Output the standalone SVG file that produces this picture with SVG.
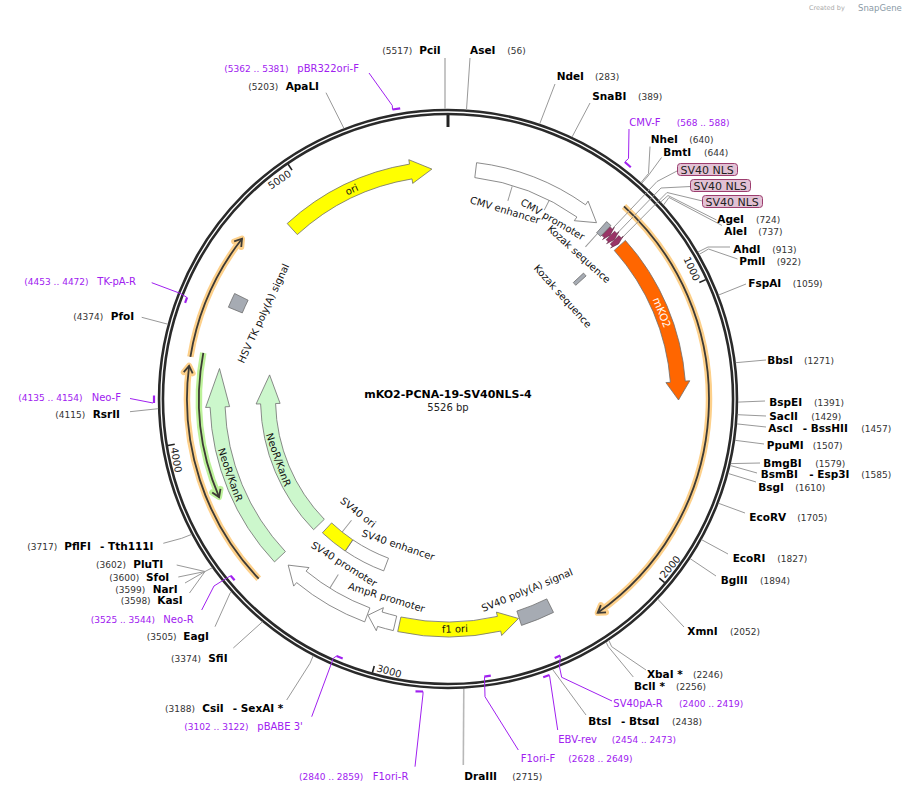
<svg xmlns="http://www.w3.org/2000/svg" width="907" height="793" viewBox="0 0 907 793">
<style>
text{font-family:"DejaVu Sans","Liberation Sans",sans-serif}
.e{font-size:10.5px;font-weight:bold;fill:#000}
.n{font-size:9px;fill:#333}
.p{font-size:10px;fill:#a020f0}
.pn{font-size:9px;fill:#a020f0}
.f{font-size:10px;fill:#111}
.tk{font-size:10px;fill:#222}
.ld{stroke:#999;stroke-width:1;fill:none}
.ldl{stroke:#b8b8b8;stroke-width:1.6;fill:none}
.pl{stroke:#a020f0;stroke-width:1;fill:none}
.pb{stroke:#a020f0;stroke-width:2.2;fill:none}
.feat{stroke:#6e6e6e;stroke-width:0.8}
.oh{stroke:#fdd08a;stroke-width:6.5;fill:none}
.gh{stroke:#bdf29a;stroke-width:6.5;fill:none}
.od{stroke:#3d3a35;stroke-width:1.8;fill:none}
.nls{fill:#e2c1d4;stroke:#9c3d6e;stroke-width:1}
</style>
<defs>
<marker id="mho" markerUnits="userSpaceOnUse" overflow="visible" orient="auto" refX="0" refY="0" markerWidth="20" markerHeight="20"><path d="M-7,-4.5 L0,0 L-7,4.5" fill="none" stroke="#fdd08a" stroke-width="6" stroke-linejoin="round" stroke-linecap="round"/></marker>
<marker id="mhg" markerUnits="userSpaceOnUse" overflow="visible" orient="auto" refX="0" refY="0" markerWidth="20" markerHeight="20"><path d="M-7,-4.5 L0,0 L-7,4.5" fill="none" stroke="#bdf29a" stroke-width="6" stroke-linejoin="round" stroke-linecap="round"/></marker>
<marker id="md" markerUnits="userSpaceOnUse" overflow="visible" orient="auto" refX="0" refY="0" markerWidth="20" markerHeight="20"><path d="M-7,-4.5 L0,0 L-7,4.5" fill="none" stroke="#3d3a35" stroke-width="1.8"/></marker>
</defs>
<rect width="907" height="793" fill="#fff"/>
<text x="809" y="10" style="font-size:6.5px;fill:#aaa">Created by</text>
<text x="858" y="10.5" style="font-size:8.5px;fill:#8a9aa6">SnapGene</text>

<g id="backbone" transform="translate(448,399)">
<circle r="287" fill="none" stroke="#2a2a2a" stroke-width="6.5"/>
<circle r="287" fill="none" stroke="#fff" stroke-width="1.3"/>
<line x1="0" y1="-284" x2="0" y2="-272" stroke="#222" stroke-width="3"/>
<g stroke="#222" stroke-width="1.6">
<line x1="0" y1="-284" x2="0" y2="-277" transform="rotate(65.147)"/>
<line x1="0" y1="-284" x2="0" y2="-277" transform="rotate(130.293)"/>
<line x1="0" y1="-284" x2="0" y2="-277" transform="rotate(195.44)"/>
<line x1="0" y1="-284" x2="0" y2="-277" transform="rotate(260.586)"/>
<line x1="0" y1="-284" x2="0" y2="-277" transform="rotate(325.733)"/>
</g>
<text class="tk" transform="rotate(65.147)" x="-3" y="-272.5" text-anchor="end">1000</text>
<text class="tk" transform="rotate(-49.707)" x="3" y="281.5">2000</text>
<text class="tk" transform="rotate(15.44)" x="3" y="281.5">3000</text>
<text class="tk" transform="rotate(80.586)" x="3" y="281.5">4000</text>
<text class="tk" transform="rotate(-34.267)" x="-3" y="-272.5" text-anchor="end">5000</text>
</g>

<g id="orfs" transform="translate(448,399)">
<path class="oh" d="M176.0,-192.7 A261,261 0 0 1 149.7,213.8" marker-end="url(#mho)"/>
<path class="od" d="M176.0,-192.7 A261,261 0 0 1 149.7,213.8" marker-end="url(#md)"/>
<path class="oh" d="M-189.3,179.7 A261,261 0 0 1 -258.9,-33.2" marker-end="url(#mho)"/>
<path class="od" d="M-189.3,179.7 A261,261 0 0 1 -258.9,-33.2" marker-end="url(#md)"/>
<path class="oh" d="M-257.6,-42.2 A261,261 0 0 1 -206.0,-160.3" marker-end="url(#mho)"/>
<path class="od" d="M-257.6,-42.2 A261,261 0 0 1 -206.0,-160.3" marker-end="url(#md)"/>
<path class="gh" d="M-244.7,-46.2 A249,249 0 0 0 -228.9,98.1" marker-end="url(#mhg)"/>
<path class="od" d="M-244.7,-46.2 A249,249 0 0 0 -228.9,98.1" marker-end="url(#md)"/>
</g>

<g id="connectors">
<g transform="translate(448,399)" class="ld">
<line x1="0" y1="-222" x2="0" y2="-207" transform="rotate(16.8)"/>
<line x1="0" y1="-223" x2="0" y2="-212" transform="rotate(27)"/>
<line x1="0" y1="-223" x2="0" y2="-205" transform="rotate(42.1)"/>
<line x1="0" y1="-170" x2="0" y2="-155" transform="rotate(218.5)"/>
<line x1="0" y1="-223" x2="0" y2="-207" transform="rotate(212)"/>
</g>
<polyline class="ldl" points="445,58 445,109"/>
<polyline class="ld" points="470,58 466.5,109.6"/>
<polyline class="ld" points="555,84 539.7,123.9"/>
<polyline class="ld" points="590,103 572.1,136.9"/>
<polyline class="ld" points="650,146.5 648.5,173.5 641,182.5"/>
<polyline class="ld" points="661.5,157.5 648,176 642,183"/>
<polyline class="ld" points="677,171 657,181.5 612.6,228.5"/>
<polyline class="ld" points="690.5,186.5 661,188 617.3,233.2"/>
<polyline class="ld" points="702.5,201 667,192.5 621.9,238"/>
<polyline class="ld" points="716.5,220 668,195.5 660.7,202"/>
<polyline class="ld" points="722,225.5 669,197.5 663.5,205"/>
<polyline class="ld" points="730,247 708,247 698,252"/>
<polyline class="ld" points="737.5,259 708.5,249 699.3,254.3"/>
<polyline class="ld" points="746,284 718.7,295"/>
<polyline class="ld" points="766,360 735.7,362.7"/>
<polyline class="ld" points="765,401 738,402.1"/>
<polyline class="ld" points="766,416 737.6,414.7"/>
<polyline class="ld" points="766,427 736.9,423.9"/>
<polyline class="ld" points="764,444 735,440.3"/>
<polyline class="ld" points="760,463 730.7,463.6"/>
<polyline class="ld" points="757,473 730.3,465.5"/>
<polyline class="ld" points="756,482 728.3,473.5"/>
<polyline class="ld" points="745,513 718.6,503.3"/>
<polyline class="ld" points="728,554 701.6,539.7"/>
<polyline class="ld" points="716,576 690.1,558.6"/>
<polyline class="ld" points="684,627 657.8,599.2"/>
<polyline class="ld" points="646,670 611.7,646.7 608.8,640.3"/>
<polyline class="ld" points="633.3,677 608.3,646.7 606.1,642.1"/>
<polyline class="ld" points="586,715 553,670"/>
<polyline class="ldl" points="463.3,765 463.8,689"/>
<polyline class="ld" points="286.7,700 310,663.3 313.2,655.8"/>
<polyline class="ld" points="233.3,648 262.4,621.8"/>
<polyline class="ld" points="215,626.7 230,593.3 231.4,591.9"/>
<polyline class="ld" points="176.7,565 205,571.5"/>
<polyline class="ld" points="178.3,577 205,571.5"/>
<polyline class="ld" points="185,583 205,571.5"/>
<polyline class="ld" points="189.5,593 205,571.5 212.2,567.8"/>
<polyline class="ld" points="163.3,543.3 181.7,538.3 191.6,534.4"/>
<polyline class="ld" points="130,411.7 158.2,408.7"/>
<polyline class="ld" points="141.7,317.3 167.8,324.2"/>
<polyline class="ld" points="326,92.7 343.9,128.3"/>
<!-- primers -->
<polyline class="pl" points="369,73 392.3,105.5 392.5,109.5"/>
<polyline class="pb" points="392.5,109.5 400.2,108.3"/>
<polyline class="pl" points="629,129 628.5,158.5 624.8,162"/>
<polyline class="pb" points="624.8,162 630.8,167.3"/>
<polyline class="pl" points="130,398.5 153,403"/>
<polyline class="pb" points="154,395.5 154,403"/>
<polyline class="pl" points="151.7,282.7 180,293.3 186.8,297.3"/>
<polyline class="pb" points="185.1,302.8 187.1,297.3"/>
<polyline class="pl" points="201.7,610 214,586 222,581 230.7,575.7"/>
<polyline class="pb" points="230.7,575.7 234.6,580.2"/>
<polyline class="pl" points="311.7,716.7 333.3,658.3 336.5,656"/>
<polyline class="pb" points="336.5,656 342.7,658.5"/>
<polyline class="pl" points="415,766.7 423,694 423,691.5"/>
<polyline class="pb" points="423,691.5 415.5,691.3"/>
<polyline class="pl" points="518.3,750 485,696.7 484.5,677"/>
<polyline class="pb" points="484.3,676.7 490.8,675.7"/>
<polyline class="pl" points="557.7,730 549.5,675.5"/>
<polyline class="pb" points="549.5,675 543.2,677.2"/>
<polyline class="pl" points="612,701 561.7,677.3 559.5,667 560.3,656"/>
<polyline class="pb" points="560.3,655.5 554.7,657.9"/>
</g>

<g transform="translate(448,399)">
<g id="ori"><path class="feat" fill="#ffff00" d="M-160.8,-175.5 A238,238 0 0 1 -38.5,-234.9 L-39.2,-239.3 L-16.1,-229.9 L-35.3,-215.6 L-36.0,-220.1 A223,223 0 0 0 -150.7,-164.4 Z"/>
<text class="f" transform="rotate(-24.7) translate(0,-226.9)" text-anchor="middle">ori</text></g>
<g id="cmv"><path class="feat" fill="#fff" d="M28.6,-236.3 A238,238 0 0 1 137.5,-194.2 L140.1,-197.9 L148.5,-176.3 L126.3,-178.3 L128.9,-182.0 A223,223 0 0 0 26.8,-221.4 Z"/>
<text class="f" transform="rotate(16.8) translate(0,-193.8)" text-anchor="middle">CMV enhancer</text>
<text class="f" transform="rotate(30.2) translate(0,-204.4)" text-anchor="middle">CMV promoter</text></g>
<g id="kozak1"><path class="feat" fill="#a6abb3" d="M158.6,-177.4 A238,238 0 0 1 162.9,-173.5 L152.6,-162.6 A223,223 0 0 0 148.6,-166.2 Z"/>
<text class="f" transform="rotate(42.1) translate(0,-191.8)" text-anchor="middle">Kozak sequence</text></g>
<g id="nls1"><path fill="#993366" stroke="#5a1f3d" stroke-width="0.6" d="M162.2,-172.1 A236.5,236.5 0 0 1 164.6,-169.8 L166.3,-171.6 L162.1,-163.8 L154.5,-159.4 L156.2,-161.2 A224.5,224.5 0 0 0 154.0,-163.4 Z"/></g>
<g id="nls2"><path fill="#993366" stroke="#5a1f3d" stroke-width="0.6" d="M166.6,-167.8 A236.5,236.5 0 0 1 169.0,-165.5 L170.8,-167.2 L166.4,-159.5 L158.6,-155.3 L160.4,-157.1 A224.5,224.5 0 0 0 158.2,-159.3 Z"/></g>
<g id="nls3"><path fill="#993366" stroke="#5a1f3d" stroke-width="0.6" d="M171.0,-163.4 A236.5,236.5 0 0 1 173.2,-161.0 L175.1,-162.7 L170.5,-155.1 L162.6,-151.1 L164.4,-152.8 A224.5,224.5 0 0 0 162.3,-155.1 Z"/></g>
<g id="mko2"><path class="feat" fill="#ff6600" d="M177.4,-158.6 A238,238 0 0 1 237.3,-17.9 L241.8,-18.2 L230.5,1.0 L217.9,-16.4 L222.4,-16.7 A223,223 0 0 0 166.2,-148.6 Z"/>
<text class="f" style="fill:#fff;font-size:10.5px" transform="rotate(68) translate(0,-227)" text-anchor="middle">mKO2</text></g>
<g id="kozak2"><path class="feat" fill="#a6abb3" d="M135.5,-125.9 A185,185 0 0 1 138.1,-123.1 L127.7,-113.7 A171,171 0 0 0 125.3,-116.4 Z"/>
<text class="f" transform="rotate(48.1) translate(0,-150.6)" text-anchor="middle">Kozak sequence</text></g>
<g id="sv40pa"><path class="feat" fill="#a6abb3" d="M73.5,226.4 A238,238 0 0 0 105.5,213.4 L98.8,199.9 A223,223 0 0 1 68.9,212.1 Z"/>
<text class="f" transform="rotate(-22.5) translate(0,210.3)" text-anchor="middle">SV40 poly(A) signal</text></g>
<g id="f1ori"><path class="feat" fill="#ffff00" d="M-50.3,232.6 A238,238 0 0 0 52.7,232.1 L53.7,236.5 L70.5,219.5 L48.4,213.1 L49.4,217.4 A223,223 0 0 1 -47.1,218.0 Z"/>
<text class="f" transform="rotate(-1.7) translate(0,233.5)" text-anchor="middle">f1 ori</text></g>
<g id="ampr-promoter"><path class="feat" fill="#fff" d="M-54.7,231.6 A238,238 0 0 1 -70.4,227.4 L-71.7,231.7 L-80.0,216.2 L-64.6,208.7 L-65.9,213.0 A223,223 0 0 0 -51.3,217.0 Z"/>
<text class="f" transform="rotate(17.2) translate(0,211.2)" text-anchor="middle">AmpR promoter</text></g>
<g id="sv40-promoter"><path class="feat" fill="#fff" d="M-83.3,222.9 A238,238 0 0 1 -151.4,183.6 L-154.3,187.1 L-159.8,166.1 L-139.0,168.6 L-141.9,172.1 A223,223 0 0 0 -78.1,208.9 Z"/>
<text class="f" transform="rotate(32.2) translate(0,198.6)" text-anchor="middle">SV40 promoter</text></g>
<g id="sv40-enhancer"><path class="feat" fill="#fff" d="M-64.3,171.9 A183.5,183.5 0 0 1 -102.6,152.1 L-95.1,140.9 A170,170 0 0 0 -59.5,159.2 Z"/>
<text class="f" transform="rotate(18.8) translate(0,157.8)" text-anchor="middle">SV40 enhancer</text></g>
<g id="sv40-ori"><path class="feat" fill="#ffff00" d="M-102.9,152.0 A183.5,183.5 0 0 1 -125.6,133.8 L-116.4,123.9 A170,170 0 0 0 -95.3,140.8 Z"/>
<text class="f" transform="rotate(38.4) translate(0,148.1)" text-anchor="middle">SV40 ori</text></g>
<g id="neor-outer"><path class="feat" fill="#ccf7cc" d="M-173.5,162.9 A238,238 0 0 1 -237.9,8.3 L-242.4,8.5 L-228.5,-30.5 L-218.4,7.6 L-222.9,7.8 A223,223 0 0 0 -162.6,152.6 Z"/>
<text class="f" transform="rotate(70.8) translate(0,234)" text-anchor="middle">NeoR/KanR</text></g>
<g id="neor-inner"><path class="feat" fill="#ccf7cc" d="M-134.4,130.7 A187.5,187.5 0 0 1 -187.4,4.9 L-191.9,5.0 L-178.4,-24.1 L-167.9,4.4 L-172.4,4.5 A172.5,172.5 0 0 0 -123.7,120.3 Z"/>
<text class="f" transform="rotate(70.3) translate(0,183.6)" text-anchor="middle">NeoR/KanR</text></g>
<g id="hsv-tk-pa"><path class="feat" fill="#a6abb3" d="M-219.6,-91.8 A238,238 0 0 1 -213.4,-105.5 L-199.9,-98.8 A223,223 0 0 0 -205.7,-86.1 Z"/>
<text class="f" transform="rotate(-65.1) translate(0,-200)" text-anchor="middle">HSV TK poly(A) signal</text></g>
</g>

<g id="nls-labels">
<rect class="nls" x="677.5" y="163.5" width="60" height="12" rx="3"/><text x="680.5" y="173.5" style="font-size:11px;fill:#222">SV40 NLS</text>
<rect class="nls" x="690.5" y="179.5" width="60" height="12" rx="3"/><text x="693.5" y="189.5" style="font-size:11px;fill:#222">SV40 NLS</text>
<rect class="nls" x="702.5" y="195.5" width="60" height="12" rx="3"/><text x="705.5" y="205.5" style="font-size:11px;fill:#222">SV40 NLS</text>
</g>

<g id="title">
<text x="448" y="398" text-anchor="middle" style="font-size:11px;font-weight:bold;fill:#000">mKO2-PCNA-19-SV40NLS-4</text>
<text x="448" y="411" text-anchor="middle" style="font-size:10px;fill:#222">5526 bp</text>
</g>

<g id="sites">
<g id="s-pcii"><text class="n" x="382.3" y="54">(5517)</text><text class="e" x="419.3" y="54">PciI</text></g>
<g id="s-asei"><text class="e" x="470" y="54">AseI</text><text class="n" x="507.3" y="54">(56)</text></g>
<g id="s-ndei"><text class="e" x="556.7" y="80">NdeI</text><text class="n" x="595" y="80">(283)</text></g>
<g id="s-snabi"><text class="e" x="592.3" y="99.5">SnaBI</text><text class="n" x="638" y="99.5">(389)</text></g>
<g id="s-nhei"><text class="e" x="650.7" y="143.3">NheI</text><text class="n" x="689.3" y="143.3">(640)</text></g>
<g id="s-bmti"><text class="e" x="663.3" y="155.7">BmtI</text><text class="n" x="704" y="155.7">(644)</text></g>
<g id="s-agei"><text class="e" x="717.3" y="223">AgeI</text><text class="n" x="756" y="223">(724)</text></g>
<g id="s-alei"><text class="e" x="724.3" y="235">AleI</text><text class="n" x="758.3" y="235">(737)</text></g>
<g id="s-ahdi"><text class="e" x="733.3" y="253.3">AhdI</text><text class="n" x="772.3" y="253.3">(913)</text></g>
<g id="s-pmli"><text class="e" x="739.3" y="265">PmlI</text><text class="n" x="776.7" y="265">(922)</text></g>
<g id="s-fspai"><text class="e" x="748.3" y="286.7">FspAI</text><text class="n" x="792.7" y="286.7">(1059)</text></g>
<g id="s-bbsi"><text class="e" x="767.3" y="364">BbsI</text><text class="n" x="804" y="364">(1271)</text></g>
<g id="s-bspei"><text class="e" x="769.3" y="406">BspEI</text><text class="n" x="814" y="406">(1391)</text></g>
<g id="s-sacii"><text class="e" x="769.3" y="420">SacII</text><text class="n" x="811.3" y="420">(1429)</text></g>
<g id="s-asci"><text class="e" x="768.3" y="431.7">AscI</text><text class="e" x="802.7" y="431.7">- BssHII</text><text class="n" x="861.3" y="431.7">(1457)</text></g>
<g id="s-ppumi"><text class="e" x="766.7" y="449">PpuMI</text><text class="n" x="812.7" y="449">(1507)</text></g>
<g id="s-bmgbi"><text class="e" x="763.3" y="466.7">BmgBI</text><text class="n" x="815.3" y="466.7">(1579)</text></g>
<g id="s-bsmbi"><text class="e" x="760.7" y="478.3">BsmBI</text><text class="e" x="809.3" y="478.3">- Esp3I</text><text class="n" x="861.3" y="478.3">(1585)</text></g>
<g id="s-bsgi"><text class="e" x="758.3" y="490.7">BsgI</text><text class="n" x="795.3" y="490.7">(1610)</text></g>
<g id="s-ecorv"><text class="e" x="749.3" y="520.7">EcoRV</text><text class="n" x="797.3" y="520.7">(1705)</text></g>
<g id="s-ecori"><text class="e" x="732.7" y="561.7">EcoRI</text><text class="n" x="777.3" y="561.7">(1827)</text></g>
<g id="s-bglii"><text class="e" x="720.7" y="584">BglII</text><text class="n" x="760" y="584">(1894)</text></g>
<g id="s-xmni"><text class="e" x="687.3" y="635">XmnI</text><text class="n" x="730" y="635">(2052)</text></g>
<g id="s-xbai"><text class="e" x="647" y="678">XbaI *</text><text class="n" x="693" y="678">(2246)</text></g>
<g id="s-bcli"><text class="e" x="634" y="690">BclI *</text><text class="n" x="676" y="690">(2256)</text></g>
<g id="s-btsi"><text class="e" x="588.3" y="725">BtsI</text><text class="e" x="621" y="725">- BtsαI</text><text class="n" x="672" y="725">(2438)</text></g>
<g id="s-draiii"><text class="e" x="464.3" y="780">DraIII</text><text class="n" x="512.3" y="780">(2715)</text></g>
<g id="s-csii"><text class="n" x="165" y="711.7">(3188)</text><text class="e" x="202.3" y="711.7">CsiI</text><text class="e" x="232.7" y="711.7">- SexAI *</text></g>
<g id="s-sfii"><text class="n" x="171" y="661.7">(3374)</text><text class="e" x="208.3" y="661.7">SfiI</text></g>
<g id="s-eagi"><text class="n" x="146.7" y="640">(3505)</text><text class="e" x="183.3" y="640">EagI</text></g>
<g id="s-kasi"><text class="n" x="120.7" y="604">(3598)</text><text class="e" x="157.3" y="604">KasI</text></g>
<g id="s-nari"><text class="n" x="115.3" y="592.7">(3599)</text><text class="e" x="152.7" y="592.7">NarI</text></g>
<g id="s-sfoi"><text class="n" x="109.3" y="580.7">(3600)</text><text class="e" x="146" y="580.7">SfoI</text></g>
<g id="s-pluti"><text class="n" x="96" y="568.3">(3602)</text><text class="e" x="133.3" y="568.3">PluTI</text></g>
<g id="s-pflfi"><text class="n" x="27.3" y="550">(3717)</text><text class="e" x="64.3" y="550">PflFI</text><text class="e" x="100" y="550">- Tth111I</text></g>
<g id="s-rsrii"><text class="n" x="55.3" y="418.3">(4115)</text><text class="e" x="92.7" y="418.3">RsrII</text></g>
<g id="s-pfoi"><text class="n" x="73.3" y="320">(4374)</text><text class="e" x="110.7" y="320">PfoI</text></g>
<g id="s-apali"><text class="n" x="248.3" y="90">(5203)</text><text class="e" x="285.7" y="90">ApaLI</text></g>
</g>

<g id="primers">
<g id="pr-pbr322"><text class="pn" x="224.3" y="72.3">(5362 .. 5381)</text><text class="p" x="297.3" y="72.3">pBR322ori-F</text></g>
<g id="pr-cmvf"><text class="p" x="629.3" y="125.5">CMV-F</text><text class="pn" x="676.7" y="125.5">(568 .. 588)</text></g>
<g id="pr-sv40par"><text class="p" x="613.3" y="706.7">SV40pA-R</text><text class="pn" x="679" y="706.7">(2400 .. 2419)</text></g>
<g id="pr-ebvrev"><text class="p" x="558.3" y="743.3">EBV-rev</text><text class="pn" x="611.7" y="743.3">(2454 .. 2473)</text></g>
<g id="pr-f1orif"><text class="p" x="520.7" y="761.7">F1ori-F</text><text class="pn" x="568.3" y="761.7">(2628 .. 2649)</text></g>
<g id="pr-f1orir"><text class="pn" x="299" y="780">(2840 .. 2859)</text><text class="p" x="372.7" y="780">F1ori-R</text></g>
<g id="pr-pbabe"><text class="pn" x="184.3" y="730">(3102 .. 3122)</text><text class="p" x="257.3" y="730">pBABE 3'</text></g>
<g id="pr-neor"><text class="pn" x="90.7" y="622.7">(3525 .. 3544)</text><text class="p" x="163.3" y="622.7">Neo-R</text></g>
<g id="pr-neof"><text class="pn" x="18.3" y="400.7">(4135 .. 4154)</text><text class="p" x="91.7" y="400.7">Neo-F</text></g>
<g id="pr-tkpar"><text class="pn" x="24.3" y="285">(4453 .. 4472)</text><text class="p" x="97.3" y="285">TK-pA-R</text></g>
</g>
</svg>
